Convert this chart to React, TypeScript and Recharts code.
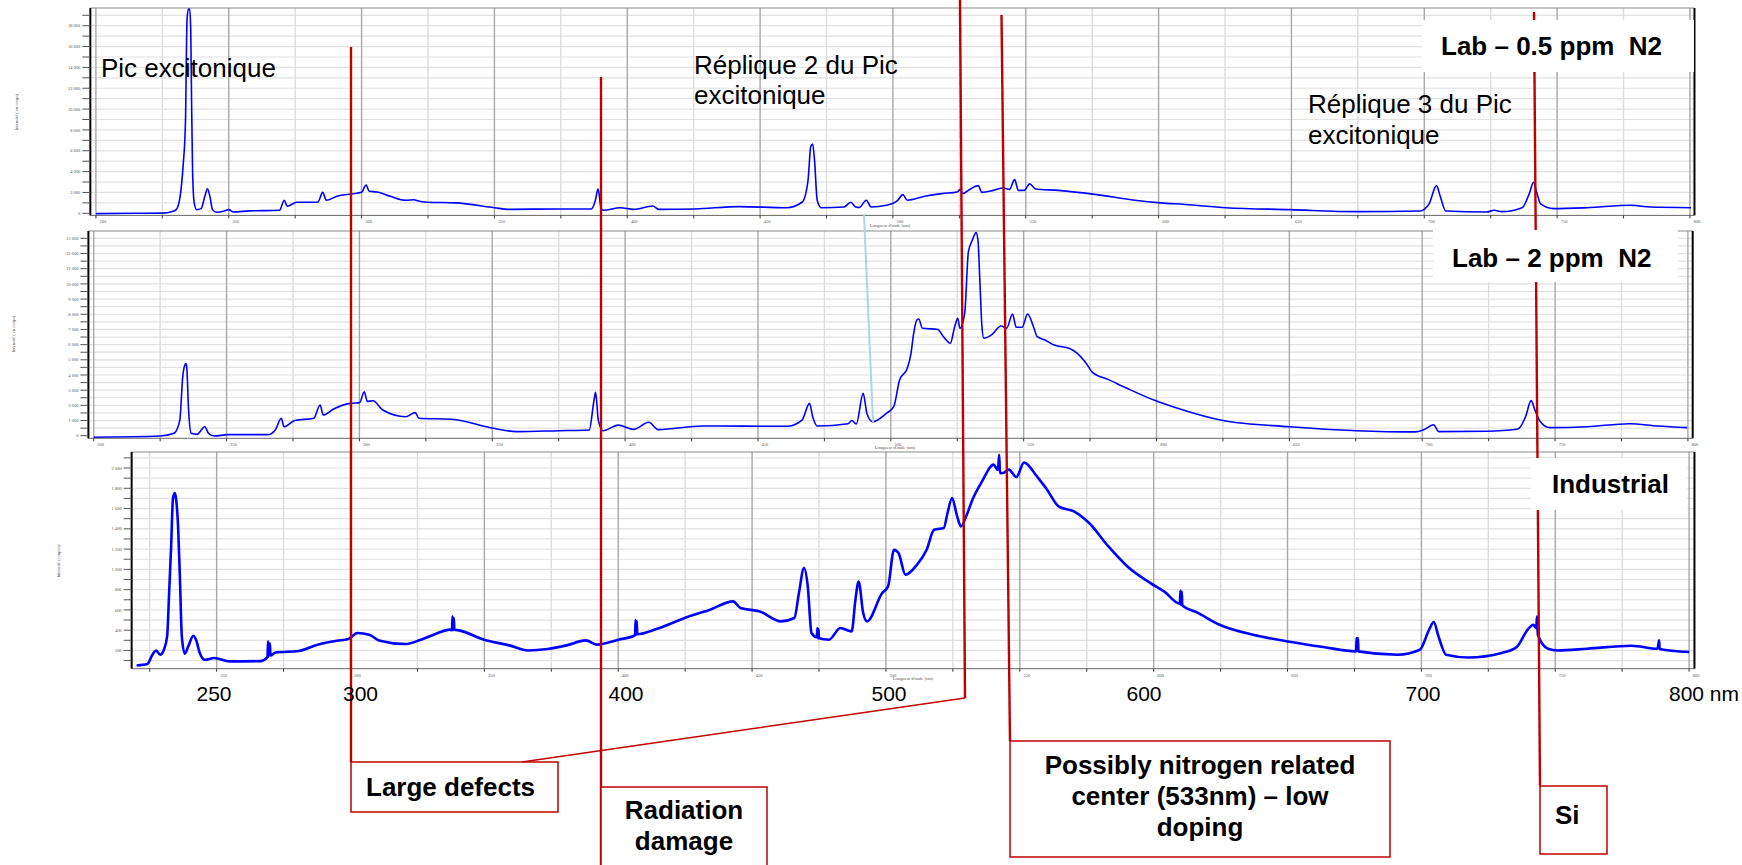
import React from 'react';
import { LineChart, Line, XAxis, YAxis, ReferenceLine } from 'recharts';

// Lab – 0.5 ppm N2 (top spectrum)
const nmLab05 = [200, 215, 225, 228.5, 230.2, 231.7, 232.8, 233.7, 234.3, 234.8, 235.3, 235.7, 236.0, 236.4, 237.0, 237.9, 239.6, 241.0, 242.0, 242.9, 243.9, 245.4, 248, 250, 251.8, 257.6, 269.1, 270.9, 272, 275.6, 283.5, 285.4, 286.7, 290.7, 296.2, 300, 301.7, 302.9, 305.8, 310.8, 316.6, 319.8, 321, 324.9, 335.4, 350, 355.5, 375, 386.5, 388, 389, 390.2, 391, 397.4, 402.4, 409.6, 411.8, 425.5, 442, 460, 465.8, 468, 469.1, 469.8, 470.5, 471.5, 473, 481.6, 484.1, 486, 487.3, 490, 491.8, 497.5, 501.8, 503.7, 505.4, 511.9, 518.4, 524.2, 525.3, 526.3, 529.2, 532.1, 533.5, 537.8, 541.5, 543.9, 545.8, 547.2, 549.4, 551.5, 553.7, 562.3, 576.7, 591.1, 600.8, 610, 625.3, 649.5, 674.6, 698.4, 701.8, 704.6, 706, 708.1, 723.5, 726.3, 729.1, 736.8, 739.6, 741.1, 742.4, 743.8, 748.7, 761.3, 778, 785, 800.4];
const cntLab05 = [-30, 0, 20, 150, 355, 1630, 4500, 8670, 18580, 19600, 19600, 17500, 10900, 3870, 1000, 355, 450, 1630, 2340, 1630, 355, 100, 200, 355, 130, 230, 290, 1250, 670, 1060, 1060, 2010, 1250, 1630, 1860, 2010, 2720, 2110, 2050, 1630, 1250, 1300, 1200, 1060, 1000, 540, 380, 420, 420, 1250, 2340, 450, 300, 540, 380, 700, 380, 420, 640, 540, 1060, 3070, 6430, 6650, 5050, 1250, 540, 600, 1060, 600, 550, 1250, 600, 770, 1250, 1790, 1250, 1630, 1890, 2050, 2300, 1890, 2340, 2660, 2010, 2200, 2430, 2300, 3230, 2200, 2200, 2820, 2340, 2200, 1790, 1250, 1000, 850, 540, 350, 160, 220, 900, 2660, 1630, 220, 130, 290, 160, 540, 1940, 2980, 1940, 900, 450, 540, 770, 600, 540];

// Lab – 2 ppm N2 (middle spectrum)
const nmLab2 = [200, 225, 230.2, 232.4, 233.5, 234.3, 234.7, 235, 235.7, 236.7, 238.9, 241.8, 243.2, 245.4, 250.4, 265.5, 268.4, 270.6, 271.6, 275.6, 282.8, 285.2, 286.4, 290.1, 296.5, 300.1, 301.8, 303, 305.1, 308.8, 317.4, 321, 322.4, 334.7, 350.5, 359.1, 375, 386.5, 388.3, 388.9, 389.9, 391.7, 397.4, 403.2, 408.9, 412.5, 429.1, 460.8, 466.6, 469.4, 470.6, 472.3, 483.9, 485.3, 487, 489.6, 491, 493.2, 498.3, 501.1, 503.3, 506.2, 507.6, 508.6, 509.8, 510.5, 511.9, 517.7, 519.8, 522.4, 524.1, 525.2, 526, 527.8, 529.2, 530.7, 532.1, 532.8, 533.5, 534.3, 535, 537.9, 541.5, 543.6, 545.8, 547.2, 549.4, 551.5, 553.7, 555.1, 558, 561.5, 567.3, 570.2, 573.1, 576, 581.7, 588.9, 599, 608.8, 625, 650.2, 675.3, 697.6, 700.4, 704.3, 706.2, 724.2, 736, 738.9, 741, 742.4, 744.5, 748, 762, 778, 788.5, 799.7];
const cntLab2 = [-100, -20, 160, 1030, 3890, 4660, 4750, 4530, 1690, 160, 90, 590, 160, -20, 70, 70, 400, 1150, 590, 1000, 1150, 2020, 1360, 1740, 2130, 2180, 2900, 2260, 2300, 1690, 1250, 1520, 1150, 1080, 487, 270, 330, 380, 2350, 2860, 1030, 330, 700, 420, 885, 400, 640, 620, 1030, 2130, 1250, 640, 790, 1000, 770, 2790, 1470, 920, 1470, 1910, 3670, 4440, 5430, 6740, 7620, 7690, 7080, 7000, 6520, 6090, 7230, 7730, 7080, 8060, 12120, 12890, 13380, 12890, 10260, 7180, 6420, 6640, 7230, 7080, 8020, 7140, 7140, 8020, 7180, 6520, 6310, 5970, 5750, 5430, 4880, 4150, 3710, 3120, 2350, 1760, 1000, 590, 330, 250, 380, 720, 270, 290, 440, 1250, 2310, 1690, 920, 530, 590, 790, 640, 530];

// Industrial (bottom spectrum)
const nmInd = [220.1, 224.1, 226, 227.4, 228.9, 230.3, 231.5, 232.3, 233, 233.7, 234.4, 234.8, 235.6, 236.3, 237, 238.1, 239.4, 241.3, 242.3, 243.7, 245.6, 249.1, 254.9, 266.3, 269, 269.2, 269.4, 269.9, 270.1, 272, 280.6, 287.7, 294.9, 299.2, 302.6, 307, 310.6, 320.6, 326.3, 332, 337.1, 337.9, 338.1, 338.3, 338.6, 338.8, 340.6, 349.9, 359.3, 366.4, 373.6, 380.7, 387.9, 392.2, 400.1, 406.3, 406.5, 406.7, 406.9, 407.1, 414.3, 425.8, 434.3, 442.9, 445.7, 452.9, 460.8, 465.8, 467.5, 469.4, 470.8, 472.2, 474.2, 474.4, 474.6, 474.8, 475, 478.7, 483, 487.2, 488.6, 489.8, 491.5, 492.9, 498.6, 500.8, 503, 504.7, 507.3, 511.6, 515.2, 518, 521.6, 523, 524.7, 526.6, 528, 530.2, 532.3, 535.9, 540.2, 541.8, 542.3, 542.6, 543.8, 545.9, 548.7, 551.6, 553, 555.9, 560.2, 564.5, 570.2, 575.9, 583.1, 590.2, 598.8, 604, 609.8, 610, 610.2, 610.5, 610.7, 616.2, 624.6, 637.1, 650.2, 663.4, 675.6, 675.8, 676, 676.3, 676.5, 691.1, 699.4, 702.9, 704.6, 706.4, 709.2, 717.5, 730, 735.6, 739.7, 741.8, 742.9, 743.2, 743.5, 747.3, 750.8, 761.9, 778.5, 788.2, 788.8, 789, 800];
const cntInd = [52, 66, 158, 200, 158, 207, 338, 800, 1226, 1704, 1753, 1704, 1424, 898, 338, 168, 240, 345, 305, 175, 108, 125, 92, 95, 135, 290, 140, 270, 150, 180, 194, 257, 296, 313, 372, 355, 299, 263, 306, 365, 405, 400, 536, 400, 520, 405, 398, 306, 250, 200, 214, 250, 299, 257, 306, 350, 500, 355, 490, 360, 411, 530, 602, 684, 619, 585, 487, 520, 767, 1013, 832, 372, 330, 420, 320, 410, 320, 306, 421, 388, 700, 881, 569, 487, 767, 832, 1194, 1161, 947, 1046, 1194, 1391, 1408, 1556, 1704, 1522, 1424, 1539, 1687, 1868, 2033, 1980, 2131, 1950, 1951, 1984, 1911, 2055, 2033, 1934, 1786, 1621, 1572, 1457, 1226, 1029, 865, 780, 660, 788, 650, 780, 645, 575, 454, 355, 289, 234, 191, 323, 195, 323, 191, 158, 207, 405, 480, 338, 158, 131, 175, 234, 405, 454, 420, 536, 355, 217, 200, 217, 247, 217, 300, 215, 184];

// wavelengths written over the bottom axis of the slide
const bottomLabels = ['250', '300', '400', '500', '600', '700'];
const bottomLabelX = [214, 360.5, 626, 889, 1144, 1423];

const W = 1742;
const H = 865;

const zip = (xs: number[], ys: number[]) => xs.map((nm, i) => ({ nm, v: ys[i] }));
const range = (a: number, b: number, s: number) => {
  const r: number[] = [];
  for (let v = a; v <= b + 1e-9; v += s) r.push(v);
  return r;
};
const fmt = (v: number) => String(v).replace(/\B(?=(\d{3})+(?!\d))/g, ' ');

const TINY = { fontSize: 4.5, fill: '#555', fontFamily: 'Liberation Serif, serif' };

const XTick = (props: any) => {
  const { x, y, payload } = props;
  if (payload.value % 50 !== 0) return <g />;
  return (
    <text x={x + 7} y={y + 3} textAnchor="middle" {...TINY}>
      {payload.value}
    </text>
  );
};

interface PanelProps {
  data: { nm: number; v: number }[];
  left: number;
  right: number;
  top: number;
  bottom: number;
  xDomain: [number, number];
  yDomain: [number, number];
  yTicks: number[];
  yLabelStep: number;
  yGrid: number[];
  strokeWidth: number;
}

const Panel = ({ data, left, right, top, bottom, xDomain, yDomain, yTicks, yLabelStep, yGrid, strokeWidth }: PanelProps) => {
  const padTop = 4;
  const padBottom = 20;
  const yAxisW = 60;
  const xAxisH = 12;
  const xGrid = range(Math.ceil(xDomain[0] / 25) * 25, 800, 25);
  return (
    <div style={{ position: 'absolute', left: 0, top: top - padTop }}>
      <LineChart
        width={W}
        height={bottom - top + padTop + padBottom}
        data={data}
        margin={{ top: padTop, right: W - right, bottom: padBottom - xAxisH, left: left - yAxisW }}
      >
        {yGrid.map((g) => (
          <ReferenceLine key={'y' + g} y={g} stroke="#e2e2e2" strokeWidth={1.2} zIndex={-100} />
        ))}
        {xGrid.map((g) => (
          <ReferenceLine
            key={'x' + g}
            x={g}
            stroke={g % 50 === 0 ? '#a8a8a8' : '#dddddd'}
            strokeWidth={1.4}
            zIndex={-100}
          />
        ))}
        <ReferenceLine y={yDomain[1]} stroke="#8a8a8a" strokeWidth={1} zIndex={-100} />
        <ReferenceLine x={xDomain[1]} stroke="#000" strokeWidth={2} zIndex={-100} />
        <XAxis
          type="number"
          dataKey="nm"
          domain={xDomain}
          allowDataOverflow
          ticks={xGrid}
          interval={0}
          height={xAxisH}
          tickSize={3}
          axisLine={{ stroke: '#666' }}
          tickLine={{ stroke: '#333' }}
          tick={<XTick />}
        />
        <YAxis
          type="number"
          domain={yDomain}
          allowDataOverflow
          ticks={yTicks}
          interval={0}
          width={yAxisW}
          tickSize={8}
          tickMargin={2}
          axisLine={{ stroke: '#000', strokeWidth: 2 }}
          tickLine={{ stroke: '#555' }}
          tick={TINY}
          tickFormatter={(v: number) => (v % yLabelStep === 0 ? fmt(v) : '')}
        />
        <Line
          type="monotone"
          dataKey="v"
          stroke="#0000ff"
          strokeWidth={strokeWidth}
          dot={false}
          isAnimationActive={false}
        />
      </LineChart>
    </div>
  );
};

const RED = '#c00000';
const SANS = 'Liberation Sans, Arial, sans-serif';

const Overlay = () => (
  <svg width={W} height={H} style={{ position: 'absolute', left: 0, top: 0 }}>
    {/* small axis titles */}
    <text transform="translate(18,112) rotate(-90)" textAnchor="middle" {...TINY}>Intensité ( en coups)</text>
    <text transform="translate(15,334) rotate(-90)" textAnchor="middle" {...TINY}>Intensité ( en coups)</text>
    <text transform="translate(60,561) rotate(-90)" textAnchor="middle" {...TINY}>Intensité (coups/s)</text>
    <text x={890} y={227} textAnchor="middle" {...TINY}>Longueur d'onde (nm)</text>
    <text x={895} y={449} textAnchor="middle" {...TINY}>Longueur d'onde (nm)</text>
    <text x={913} y={680} textAnchor="middle" {...TINY}>Longueur d'onde (nm)</text>

    {/* peak captions */}
    <text x={101} y={77} fontSize={26} fontFamily={SANS} fill="#000">Pic excitonique</text>
    <text x={694} y={74} fontSize={26} fontFamily={SANS} fill="#000">Réplique 2 du Pic</text>
    <text x={694} y={104} fontSize={26} fontFamily={SANS} fill="#000">excitonique</text>
    <text x={1308} y={113} fontSize={26} fontFamily={SANS} fill="#000">Réplique 3 du Pic</text>
    <text x={1308} y={144} fontSize={26} fontFamily={SANS} fill="#000">excitonique</text>

    {/* pointer lines */}
    <line x1={864} y1={214} x2={873} y2={422} stroke="#a9d8e2" strokeWidth={2} />
    <line x1={351} y1={47} x2={351} y2={762} stroke={RED} strokeWidth={2.4} />
    <line x1={601} y1={77} x2={601} y2={865} stroke={RED} strokeWidth={2.4} />
    <line x1={960} y1={0} x2={965} y2={698} stroke={RED} strokeWidth={2.4} />
    <line x1={965} y1={698} x2={522} y2={762} stroke={RED} strokeWidth={1.5} />
    <line x1={1001.5} y1={15} x2={1010} y2={741} stroke={RED} strokeWidth={2.4} />
    <line x1={1534} y1={12} x2={1540} y2={786} stroke={RED} strokeWidth={2.4} />

    {/* sample labels */}
    <rect x={1422} y={20} width={272} height={52} fill="#fff" />
    <text x={1441} y={55} fontSize={26} fontWeight="bold" fontFamily={SANS} style={{ whiteSpace: 'pre' }}>Lab – 0.5 ppm  N2</text>
    <rect x={1433} y={230} width={245} height={52} fill="#fff" />
    <text x={1452} y={267} fontSize={26} fontWeight="bold" fontFamily={SANS} style={{ whiteSpace: 'pre' }}>Lab – 2 ppm  N2</text>
    <rect x={1531} y={458} width={156} height={52} fill="#fff" />
    <text x={1552} y={493} fontSize={26} fontWeight="bold" fontFamily={SANS}>Industrial</text>

    {/* overlaid wavelength labels */}
    {bottomLabels.map((t, i) => (
      <text key={t} x={bottomLabelX[i]} y={701} textAnchor="middle" fontSize={21} fontFamily={SANS}>{t}</text>
    ))}
    <text x={1669} y={701} fontSize={21} fontFamily={SANS}>800 nm</text>

    {/* annotation boxes */}
    <rect x={351} y={762} width={207} height={50} fill="#fff" stroke={RED} strokeWidth={1.5} />
    <text x={366} y={796} fontSize={26} fontWeight="bold" fontFamily={SANS}>Large defects</text>
    <rect x={601} y={787} width={166} height={90} fill="#fff" stroke={RED} strokeWidth={1.5} />
    <text x={684} y={819} textAnchor="middle" fontSize={26} fontWeight="bold" fontFamily={SANS}>Radiation</text>
    <text x={684} y={850} textAnchor="middle" fontSize={26} fontWeight="bold" fontFamily={SANS}>damage</text>
    <rect x={1010} y={741} width={380} height={116} fill="#fff" stroke={RED} strokeWidth={1.5} />
    <text x={1200} y={774} textAnchor="middle" fontSize={26} fontWeight="bold" fontFamily={SANS}>Possibly nitrogen related</text>
    <text x={1200} y={805} textAnchor="middle" fontSize={26} fontWeight="bold" fontFamily={SANS}>center (533nm) – low</text>
    <text x={1200} y={836} textAnchor="middle" fontSize={26} fontWeight="bold" fontFamily={SANS}>doping</text>
    <rect x={1540} y={786} width={67} height={68} fill="#fff" stroke={RED} strokeWidth={1.5} />
    <text x={1555} y={824} fontSize={26} fontWeight="bold" fontFamily={SANS}>Si</text>
  </svg>
);

export default function App() {
  return (
    <div style={{ position: 'absolute', left: 0, top: 0, width: W, height: H, overflow: 'hidden', background: '#fff' }}>
      <Panel
        data={zip(nmLab05, cntLab05)}
        left={90.3}
        right={1694.5}
        top={8.3}
        bottom={215.7}
        xDomain={[197.9, 801.7]}
        yDomain={[-200, 19700]}
        yTicks={range(0, 19000, 1000)}
        yLabelStep={2000}
        yGrid={range(1000, 19000, 1000)}
        strokeWidth={1.6}
      />
      <Panel
        data={zip(nmLab2, cntLab2)}
        left={88.4}
        right={1692.7}
        top={231}
        bottom={438.3}
        xDomain={[198, 801.8]}
        yDomain={[-170, 13485]}
        yTicks={range(0, 13000, 500)}
        yLabelStep={1000}
        yGrid={range(500, 13000, 500)}
        strokeWidth={1.6}
      />
      <Panel
        data={zip(nmInd, cntInd)}
        left={131.6}
        right={1694.5}
        top={452.3}
        bottom={669}
        xDomain={[218.25, 802]}
        yDomain={[20, 2158]}
        yTicks={range(100, 2100, 100)}
        yLabelStep={200}
        yGrid={range(100, 2100, 100)}
        strokeWidth={2.6}
      />
      <Overlay />
    </div>
  );
}
